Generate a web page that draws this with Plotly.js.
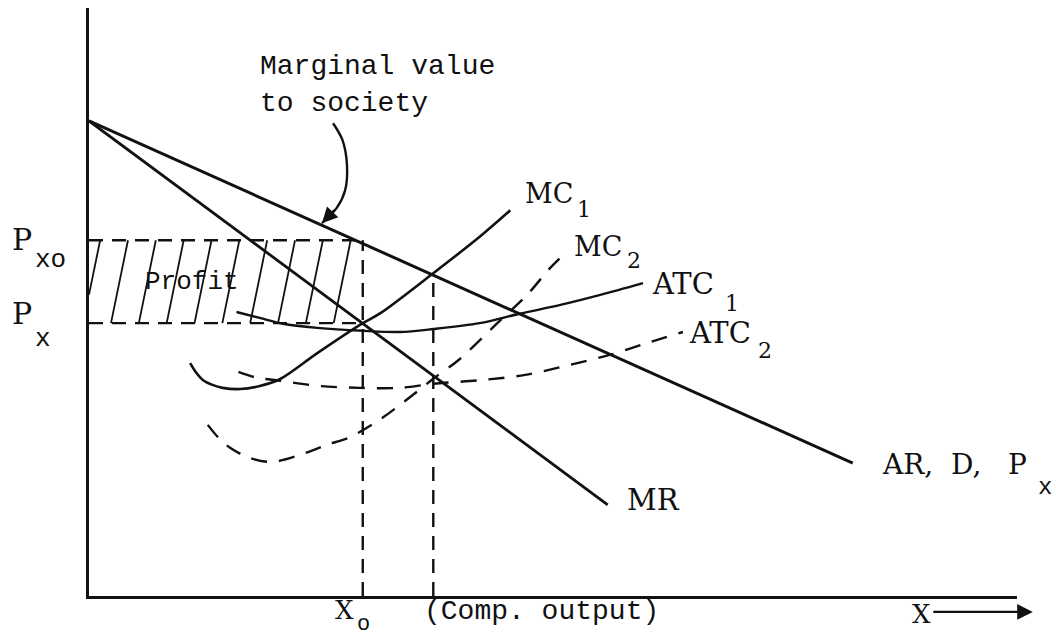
<!DOCTYPE html>
<html><head><meta charset="utf-8">
<script src="https://cdn.plot.ly/plotly-3.0.1.min.js"></script>
<style>html,body{margin:0;padding:0;background:#fff}</style>
</head><body><div id="chart" style="width:1056px;height:638px"></div>
<script>
// ---- data (arbitrary units 0-100) ----
const arX = [0, 82.3];
const arY = [80.8, 22.6];
const mrX = [0, 55.9];
const mrY = [80.8, 15.5];
const mc1X = [10.9, 11.5, 12.3, 13.3, 14.4, 16.3, 18.4, 20.6, 24.6, 29.5, 31.4, 37.1, 42.1, 45.4];
const mc1Y = [39.6, 38.1, 36.7, 35.9, 35.4, 35.2, 35.7, 36.9, 41.3, 46.4, 48.1, 54.9, 61.1, 65.6];
const atc1X = [15.9, 18.4, 20.9, 24.6, 29.5, 33.5, 37.1, 42.1, 46.4, 50.8, 55.1, 59.7];
const atc1Y = [48.3, 47.3, 46.3, 45.6, 45.1, 44.9, 45.4, 46.4, 48.0, 49.5, 51.2, 53.2];
const mc2X = [12.8, 13.9, 15.2, 17.3, 19.7, 23.3, 25.6, 28.1, 31.7, 35.3, 37.3, 39.8, 43.8, 47.2, 49.7, 51.3];
const mc2Y = [29.1, 27.0, 25.2, 23.5, 22.8, 24.3, 25.7, 27.0, 30.4, 34.7, 37.2, 40.1, 46.1, 51.2, 55.8, 58.3];
const atc2X = [16.1, 17.9, 20.6, 24.9, 29.2, 33.5, 37.1, 42.1, 47.0, 51.8, 56.1, 60.5, 64.0];
const atc2Y = [38.1, 37.2, 36.6, 35.7, 35.4, 35.4, 36.1, 36.7, 37.6, 39.3, 41.0, 43.2, 44.9];
const pointerX = [26.3, 27.3, 27.8, 27.6, 26.7, 25.1];
const pointerY = [80.4, 77.6, 73.3, 69.0, 66.0, 63.4];
const xMonopoly = 29.5;      // X_o
const xCompetitive = 37.1;   // competitive output
const priceXo = 60.5;        // P_xo
const pricePx = 46.4;        // P_x
const compTop = 54.6;        // AR at competitive output

// hatch lines of the profit rectangle (derived from the rectangle bounds)
const hx = [], hy = [];
const lean = 1.83, step = 3.0;
for (let t = 1.2; t < xMonopoly; t += step) {
  let xb = t - lean, yb = pricePx;
  if (xb < 0) { yb = pricePx + (priceXo - pricePx) * (-xb / lean); xb = 0; }
  hx.push(xb, t, null); hy.push(yb, priceXo, null);
}

const ink = '#111';
const mono = 'Liberation Mono, Courier New, monospace';
const serif = 'DejaVu Serif, serif';
function ln(x, y, w, dash, shape) {
  return {x: x, y: y, mode: 'lines', hoverinfo: 'skip',
    line: {color: ink, width: w, dash: dash || 'solid', shape: shape || 'linear', smoothing: 0.9}};
}
const traces = [
  ln(hx, hy, 1.8),
  ln([0, xMonopoly], [priceXo, priceXo], 2.4, '14px,9px'),
  ln([0, xMonopoly], [pricePx, pricePx], 2.4, '14px,9px'),
  ln([xMonopoly, xMonopoly], [0, priceXo], 2.4, '14px,9px'),
  ln([xCompetitive, xCompetitive], [0, compTop], 2.4, '14px,9px'),
  ln(arX, arY, 3),
  ln(mrX, mrY, 2.8),
  ln(mc1X, mc1Y, 2.6, 'solid', 'spline'),
  ln(atc1X, atc1Y, 2.4, 'solid', 'spline'),
  ln(mc2X, mc2Y, 2.4, '16px,12px', 'spline'),
  ln(atc2X, atc2Y, 2.4, '16px,12px', 'spline'),
  ln(pointerX, pointerY, 2.4, 'solid', 'spline')
];

// labels are placed in paper units (axis range 0-100 maps to paper 0-1)
function lab(text, x, y, size, fam) {
  return {x: x / 100, y: y / 100, xref: 'paper', yref: 'paper', text: text, showarrow: false,
    xanchor: 'left', yanchor: 'middle', font: {family: fam || serif, size: size || 28, color: ink}};
}
const annotations = [
  lab('Marginal value', 18.2, 90.0, 28, mono),
  lab('to society', 18.2, 83.7, 28, mono),
  lab('MC', 46.8, 68.5, 27), lab('1', 52.4, 65.8, 22),
  lab('MC', 52.0, 59.5, 27), lab('2', 57.8, 57.1, 22),
  lab('ATC', 60.5, 53.1, 29), lab('1', 68.3, 49.8, 22),
  lab('ATC', 64.4, 44.7, 29), lab('2', 71.9, 41.7, 22),
  lab('AR,&nbsp; D,&nbsp;&nbsp; P', 85.2, 22.4, 28), lab('x', 102.1, 18.4, 24, mono),
  lab('MR', 57.8, 16.3, 29),
  lab('P', -8.5, 60.7, 30), lab('xo', -6.0, 57.1, 26, mono),
  lab('P', -8.5, 48.1, 30), lab('x', -6.0, 43.7, 26, mono),
  lab('Profit', 5.8, 53.4, 26, mono),
  lab('X', 26.3, -2.4, 26), lab('o', 28.7, -4.8, 22, mono),
  lab('(Comp. output)', 35.9, -2.6, 28, mono),
  lab('X', 88.5, -3.1, 26),
  {x: 25.1, y: 63.4, ax: 26.6, ay: 65.9, xref: 'x', yref: 'y', axref: 'x', ayref: 'y',
   text: '', showarrow: true, arrowhead: 2, arrowsize: 1.3, arrowwidth: 2.4, arrowcolor: ink, standoff: 0},
  {x: 1.017, y: -0.027, ax: -101, ay: 0, xref: 'paper', yref: 'paper',
   text: '', showarrow: true, arrowhead: 2, arrowsize: 1.3, arrowwidth: 2.4, arrowcolor: ink, standoff: 0}
];

const layout = {
  width: 1056, height: 638,
  margin: {l: 89, r: 39, t: 8, b: 42},
  paper_bgcolor: '#fff', plot_bgcolor: '#fff',
  showlegend: false,
  xaxis: {range: [0, 100], showline: true, linecolor: ink, linewidth: 3, showgrid: false,
          zeroline: false, showticklabels: false, ticks: '', fixedrange: true},
  yaxis: {range: [0, 100], showline: true, linecolor: ink, linewidth: 3, showgrid: false,
          zeroline: false, showticklabels: false, ticks: '', fixedrange: true},
  annotations: annotations
};
Plotly.newPlot('chart', traces, layout, {displayModeBar: false, staticPlot: true});
</script></body></html>
